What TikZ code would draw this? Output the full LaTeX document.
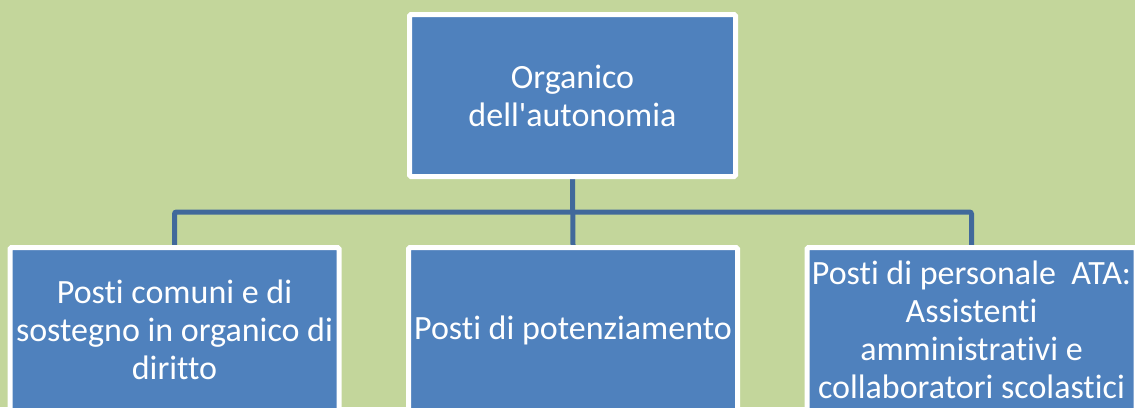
\documentclass[tikz,border=0pt]{standalone}
\usepackage{fontspec}
\setmainfont{Carlito}[Ligatures={NoCommon}]
\usetikzlibrary{backgrounds}

\definecolor{sfondo}{HTML}{C3D69B}
\definecolor{blu}{HTML}{4F81BD}
\definecolor{linea}{HTML}{41699B}

\begin{document}
\begin{tikzpicture}[x=1pt,y=1pt,node distance=398.5pt,
  box/.style={rectangle,fill=blu,draw=white,line width=5pt,text=white,align=center,rounded corners=1.5pt,
    font=\fontsize{34}{38}\selectfont,minimum width=329pt,minimum height=165pt,inner sep=0pt},
  conn/.style={draw=linea,line width=5pt}]
  \useasboundingbox (0,0) rectangle (1135,-407);
  \node[box,minimum width=326pt,minimum height=162pt] (org) at (572.5,-95.5) {Organico\\dell\textquotesingle autonomia};
  \node[box]         (pot) at (573,-330)  {Posti di potenziamento};
  \node[box]         (com) [left of=pot]  {Posti comuni e di\\sostegno in organico di\\diritto};
  \node[box]         (ata) [right of=pot] {Posti di personale~~ATA:\\Assistenti\\amministrativi e\\collaboratori scolastici};
  \coordinate (bus) at (0,-212);

  \begin{scope}[on background layer]
    \fill[sfondo] (0,0) rectangle (1135,-407);
    \draw[conn] (org.south) -- (pot.north);
    \draw[conn,rounded corners=2pt] (com.north) -- (com.north |- bus) -- (ata.north |- bus) -- (ata.north);
  \end{scope}
\end{tikzpicture}
\end{document}
